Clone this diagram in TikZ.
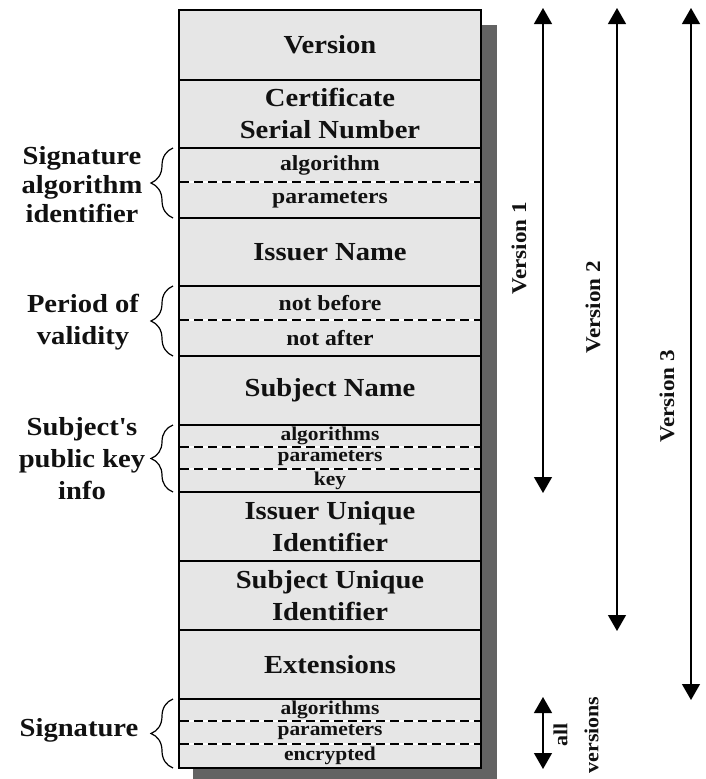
\documentclass[tikz,border=0pt]{standalone}
\usepackage{fontspec}
\setmainfont{Liberation Serif}[FakeStretch=1.1]
\usetikzlibrary{arrows.meta,decorations.pathreplacing}
\definecolor{boxgray}{HTML}{E6E6E6}
\definecolor{shadowgray}{HTML}{636363}
\definecolor{inkcol}{HTML}{111111}
\newcommand\fBig{\bfseries\fontsize{26}{32}\selectfont}
\newcommand\fMid{\bfseries\fontsize{21.5}{24}\selectfont}
\newcommand\fSmall{\bfseries\fontsize{19.5}{22}\selectfont}
\newcommand\fLab{\bfseries\fontsize{26}{31}\selectfont}
\newcommand\fVer{\bfseries\fontsize{21}{31}\selectfont}
\begin{document}
\begin{tikzpicture}[x=1pt,y=-1pt,
  field/.style={draw=black,line width=2pt,fill=boxgray,minimum width=302pt,
    inner sep=0pt,outer sep=0pt,anchor=north,align=center,font=\fBig,text=inkcol},
  subrow/.style={minimum width=302pt,inner sep=0pt,outer sep=0pt,anchor=north,
    align=center,text=inkcol},
  dashsep/.style={line width=1.5pt,draw=black,dash pattern=on 9pt off 5pt,
    shorten <=1pt,shorten >=1pt,
    preaction={draw=white,solid,line width=1.5pt,shorten <=1pt,shorten >=1pt}},
  lab/.style={align=center,font=\fLab,text=inkcol,inner sep=0pt},
  brc/.style={draw=black,line width=1.2pt,decorate,
    decoration={brace,amplitude=22pt}},
  arr/.style={draw=black,line width=1.3pt,
    {Triangle[width=18pt,length=16pt]}-{Triangle[width=18pt,length=16pt]}},
  verlab/.style={rotate=90,font=\fVer,text=inkcol,inner sep=0pt,align=center}
]
\useasboundingbox (0,0) rectangle (705,779);
% shadow
\fill[shadowgray] (193,25) rectangle (497,779);

% main fields
\node[field,minimum height=70pt] (ver) at (330,10) {Version};
\node[field,minimum height=68pt] (serial) at (330,80) {Certificate\\Serial Number};
\node[field,minimum height=70pt] (sigalg) at (330,148) {};
\node[subrow,minimum height=34pt,font=\fMid] (sa1) at (330,148) {algorithm};
\node[subrow,minimum height=36pt,font=\fMid] (sa2) at (330,182) {parameters};
\node[field,minimum height=68pt] (issuer) at (330,218) {Issuer Name};
\node[field,minimum height=70pt] (valid) at (330,286) {};
\node[subrow,minimum height=34pt,font=\fMid] (va1) at (330,286) {not before};
\node[subrow,minimum height=36pt,font=\fMid] (va2) at (330,320) {not after};
\node[field,minimum height=69pt] (subject) at (330,356) {Subject Name};
\node[field,minimum height=67pt] (pk) at (330,425) {};
\node[subrow,minimum height=22pt,font=\fSmall] (pk1) at (330,425) {algorithms};
\node[subrow,minimum height=22pt,font=\fSmall] (pk2) at (330,447) {parameters};
\node[subrow,minimum height=23pt,font=\fSmall] (pk3) at (330,469) {key};
\node[field,minimum height=69pt] (iuid) at (330,492) {Issuer Unique\\Identifier};
\node[field,minimum height=69pt] (suid) at (330,561) {Subject Unique\\Identifier};
\node[field,minimum height=69pt] (ext) at (330,630) {Extensions};
\node[field,minimum height=69pt] (sig) at (330,699) {};
\node[subrow,minimum height=22pt,font=\fSmall] (sg1) at (330,699) {algorithms};
\node[subrow,minimum height=23pt,font=\fSmall] (sg2) at (330,721) {parameters};
\node[subrow,minimum height=24pt,font=\fSmall] (sg3) at (330,744) {encrypted};

% dashed separators
\draw[dashsep] (sa1.south west) -- (sa1.south east);
\draw[dashsep] (va1.south west) -- (va1.south east);
\draw[dashsep] (pk1.south west) -- (pk1.south east);
\draw[dashsep] (pk2.south west) -- (pk2.south east);
\draw[dashsep] (sg1.south west) -- (sg1.south east);
\draw[dashsep] (sg2.south west) -- (sg2.south east);

% left labels and braces
\node[lab,font=\bfseries\fontsize{26}{29}\selectfont] (lsigalg) at (82,185) {Signature\\algorithm\\identifier};
\node[lab,font=\bfseries\fontsize{26}{32}\selectfont] (lvalid) at (83,322) {Period of\\validity};
\node[lab,font=\bfseries\fontsize{26}{32}\selectfont] (lpk) at (82,459) {Subject\textquotesingle s\\public key\\info};
\node[lab] (lsig) at (79,730) {Signature};

\draw[brc] ([xshift=-6pt]sigalg.south west) -- ([xshift=-6pt]sigalg.north west);
\draw[brc] ([xshift=-6pt]valid.south west) -- ([xshift=-6pt]valid.north west);
\draw[brc] ([xshift=-6pt]pk.south west) -- ([xshift=-6pt]pk.north west);
\draw[brc] ([xshift=-6pt]sig.south west) -- ([xshift=-6pt]sig.north west);

% version arrows
\coordinate (v1t) at (543,8);
\coordinate (v1b) at (543,493);
\coordinate (v2t) at (617,8);
\coordinate (v2b) at (617,631);
\coordinate (v3t) at (691,8);
\coordinate (v3b) at (691,700);
\coordinate (avt) at (543,697);
\coordinate (avb) at (543,769);
\draw[arr] (v1t) -- (v1b);
\draw[arr] (v2t) -- (v2b);
\draw[arr] (v3t) -- (v3b);
\draw[arr] (avt) -- (avb);

\node[verlab] (lv1) at (519,248) {Version 1};
\node[verlab] (lv2) at (593,307) {Version 2};
\node[verlab] (lv3) at (667,396) {Version 3};
\node[verlab,font=\bfseries\fontsize{20}{31}\selectfont] (lall) at (576,735) {all\\versions};
\end{tikzpicture}
\end{document}
